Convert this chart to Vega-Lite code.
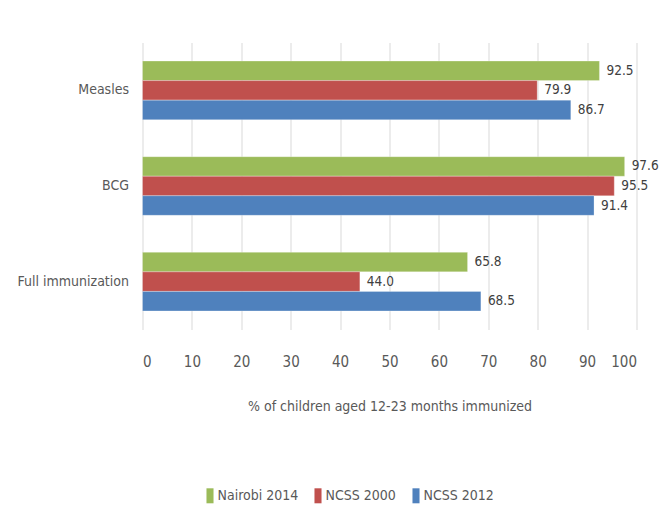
{
  "$schema": "https://vega.github.io/schema/vega-lite/v6.json",
  "width": 494,
  "height": 287,
  "autosize": {"type": "none"},
  "padding": {"left": 142.5, "top": 42.5, "right": 22.5, "bottom": 194.5},
  "background": "white",
  "config": {
    "font": "DejaVu Sans Condensed, Liberation Sans, sans-serif",
    "view": {"stroke": null},
    "axis": {
      "labelColor": "#595959",
      "titleColor": "#595959",
      "labelFontWeight": "normal",
      "titleFontWeight": "normal"
    }
  },
  "data": {
    "values": [
      {"indicator": "Measles", "survey": "Nairobi 2014", "pct": 92.5},
      {"indicator": "Measles", "survey": "NCSS 2000", "pct": 79.9},
      {"indicator": "Measles", "survey": "NCSS 2012", "pct": 86.7},
      {"indicator": "BCG", "survey": "Nairobi 2014", "pct": 97.6},
      {"indicator": "BCG", "survey": "NCSS 2000", "pct": 95.5},
      {"indicator": "BCG", "survey": "NCSS 2012", "pct": 91.4},
      {"indicator": "Full immunization", "survey": "Nairobi 2014", "pct": 65.8},
      {"indicator": "Full immunization", "survey": "NCSS 2000", "pct": 44.0},
      {"indicator": "Full immunization", "survey": "NCSS 2012", "pct": 68.5}
    ]
  },
  "encoding": {
    "y": {
      "field": "indicator",
      "type": "nominal",
      "sort": ["Measles", "BCG", "Full immunization"],
      "scale": {"paddingInner": 0.387, "paddingOuter": 0.194},
      "axis": {
        "title": null,
        "ticks": false,
        "domain": false,
        "labelPadding": 14,
        "labelFontSize": 14
      }
    },
    "yOffset": {
      "field": "survey",
      "type": "nominal",
      "sort": ["Nairobi 2014", "NCSS 2000", "NCSS 2012"]
    },
    "x": {
      "field": "pct",
      "type": "quantitative",
      "scale": {"domain": [0, 100], "nice": false},
      "axis": {
        "values": [0, 10, 20, 30, 40, 50, 60, 70, 80, 90, 100],
        "grid": true,
        "gridColor": "#D9D9D9",
        "gridWidth": 1,
        "domain": false,
        "ticks": false,
        "labelPadding": 25,
        "labelFontSize": 15,
        "title": "% of children aged 12-23 months immunized",
        "titleFontSize": 14,
        "titlePadding": 30
      }
    }
  },
  "layer": [
    {
      "mark": {"type": "bar", "stroke": "#ffffff", "strokeOpacity": 0.35, "strokeWidth": 0.8},
      "encoding": {
        "color": {
          "field": "survey",
          "type": "nominal",
          "sort": ["Nairobi 2014", "NCSS 2000", "NCSS 2012"],
          "scale": {
            "domain": ["Nairobi 2014", "NCSS 2000", "NCSS 2012"],
            "range": ["#9BBB59", "#C0504D", "#4F81BD"]
          },
          "legend": {
            "title": null,
            "orient": "none",
            "direction": "horizontal",
            "legendX": 60,
            "legendY": 445.8,
            "padding": 0,
            "symbolType": "M-0.47,-1H0.47V1H-0.47Z",
            "symbolSize": 225,
            "symbolStrokeWidth": 0,
            "symbolOpacity": 1,
            "labelOffset": 0,
            "labelFontSize": 14,
            "labelColor": "#595959",
            "columnPadding": 12
          }
        }
      }
    },
    {
      "mark": {"type": "text", "align": "left", "baseline": "middle", "dx": 7, "fontSize": 13.5, "color": "#404040"},
      "encoding": {
        "text": {"field": "pct", "type": "quantitative", "format": ".1f"}
      }
    }
  ]
}
